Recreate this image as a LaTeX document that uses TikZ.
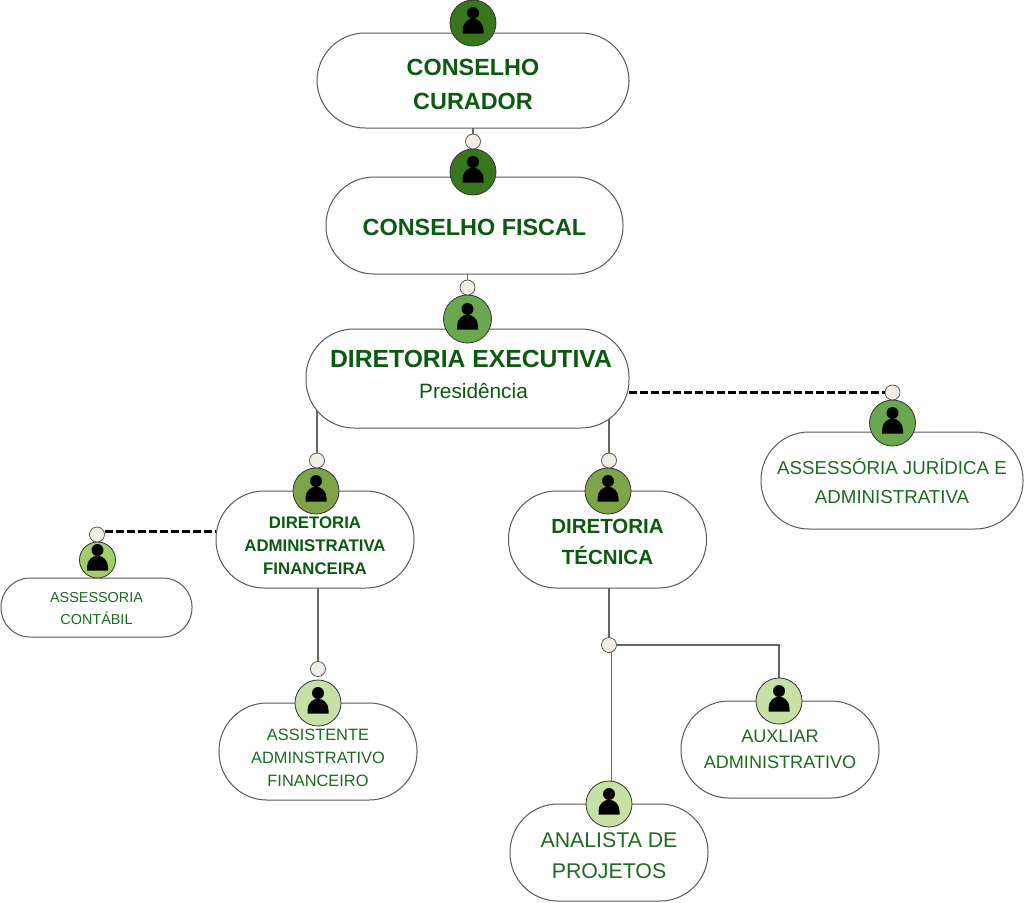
\documentclass[tikz,border=0pt]{standalone}
\usepackage{fontspec}
\usepackage{xcolor}
\setmainfont{Liberation Sans}
\usetikzlibrary{positioning,backgrounds}

\definecolor{textdark}{HTML}{0B5A10}
\definecolor{textlight}{HTML}{1C6B20}
\definecolor{greenA}{HTML}{38761D}
\definecolor{greenB}{HTML}{6AA84F}
\definecolor{greenC}{HTML}{7FA347}
\definecolor{greenD}{HTML}{A2CD68}
\definecolor{greenE}{HTML}{C6E0A6}
\definecolor{dotfill}{HTML}{F3EFE8}

\newcommand{\personicon}[1]{%
  \fill[black,shift={(path picture bounding box.center)},scale=#1]
    (0pt,10pt) circle (6pt)
    (-10.5pt,-10.7pt) -- (10.5pt,-10.7pt) -- (10.5pt,-7pt)
    .. controls (10.5pt,0pt) and (5pt,4.3pt) .. (0pt,4.3pt)
    .. controls (-5pt,4.3pt) and (-10.5pt,0pt) .. (-10.5pt,-7pt) -- cycle;}
% invisible struts that move the lines of a box down or up
\newcommand{\pushdown}[1]{\rule{0pt}{\dimexpr\fontcharht\font`H+2\dimexpr#1\relax\relax}}
\newcommand{\pushup}[1]{\rule[-2\dimexpr#1\relax]{0pt}{0pt}}

\begin{document}
\begin{tikzpicture}[
    box/.style={draw=black!65, fill=white, line width=1pt, outer sep=0pt, rounded corners=48pt, inner sep=0pt, align=center, minimum width=198pt, minimum height=97pt},
    badge/.style={circle, draw=black!80, line width=0.8pt, outer sep=0pt, fill=#1, inner sep=0pt, minimum size=46pt, path picture={\personicon{1}}},
    smallbadge/.style={circle, draw=black!80, line width=0.8pt, outer sep=0pt, fill=#1, inner sep=0pt, minimum size=36pt, path picture={\personicon{0.76}}},
    dot/.style={circle, draw=black!65, line width=0.8pt, outer sep=0pt, fill=dotfill, inner sep=0pt, minimum size=15pt},
    conn/.style={draw=black!60, line width=1.2pt},
    dashline/.style={draw=black, line width=2.2pt, dash pattern=on 8pt off 3pt}
]
\useasboundingbox (0,0) rectangle (1024pt,-902pt);

% Boxes
\node[box, minimum width=312pt, minimum height=95pt, text=textdark, font=\fontsize{23.4}{34}\selectfont\bfseries] (curador) at (473pt,-80.5pt) {\pushdown{4pt}CONSELHO\\CURADOR};
\node[box, minimum width=297pt, below=49pt of curador, xshift=1.5pt, text=textdark, font=\fontsize{23.4}{34}\selectfont\bfseries] (fiscal) {\pushdown{2.5pt}CONSELHO FISCAL};
\node[box, minimum width=323pt, minimum height=99pt, below=55pt of fiscal, xshift=-7pt, text=textdark, font=\fontsize{24.7}{31}\selectfont\bfseries] (executiva) {\hspace*{7pt}DIRETORIA EXECUTIVA\\\hspace*{12pt}{\fontsize{20.8}{31}\selectfont\mdseries Presidência}\pushup{4pt}};

\node[box, below=63pt of executiva, xshift=-152.5pt, text=textdark, font=\fontsize{16.8}{23}\selectfont\bfseries] (admin) {\pushdown{6.5pt}DIRETORIA\\ADMINISTRATIVA\\FINANCEIRA};
\node[box, below=63pt of executiva, xshift=140pt, text=textdark, font=\fontsize{20.5}{31}\selectfont\bfseries] (tecnica) {\pushdown{3pt}DIRETORIA\\TÉCNICA};
\node[box, minimum width=262pt, below=4pt of executiva, xshift=424.5pt, text=textlight, font=\fontsize{18.7}{29}\selectfont] (juridica) {\pushdown{1pt}ASSESSÓRIA JURÍDICA E\\ADMINISTRATIVA};
\node[box, minimum width=191pt, minimum height=59pt, rounded corners=29pt, below=-10pt of admin, xshift=-218.5pt, text=textlight, font=\fontsize{14.4}{22}\selectfont] (contabil) {\pushdown{1.5pt}ASSESSORIA\\CONTÁBIL};

\node[box, below=115pt of admin, xshift=3pt, text=textlight, font=\fontsize{16.4}{23}\selectfont] (assistente) {\pushdown{6.5pt}ASSISTENTE\\ADMINSTRATIVO\\FINANCEIRO};
\node[box, below=113pt of tecnica, xshift=172.5pt, text=textlight, font=\fontsize{18.1}{26}\selectfont] (auxiliar) {AUXLIAR\\ADMINISTRATIVO};
\node[box, below=216pt of tecnica, xshift=1.5pt, text=textlight, font=\fontsize{21.3}{31}\selectfont] (analista) {\pushdown{3pt}ANALISTA DE\\PROJETOS};

% Badges
\node[badge=greenA, above=-13pt of curador] (curadorbadge) {};
\node[badge=greenA, above=-18pt of fiscal, xshift=-1.5pt] (fiscalbadge) {};
\node[badge=greenB, minimum size=48pt, above=-14pt of executiva] (executivabadge) {};
\node[badge=greenC, above=-23pt of admin, xshift=1pt] (adminbadge) {};
\node[badge=greenC, above=-23pt of tecnica, xshift=0.5pt] (tecnicabadge) {};
\node[badge=greenB, above=-14pt of juridica, xshift=0.5pt] (juridicabadge) {};
\node[smallbadge=greenD, above=0pt of contabil, xshift=1pt] (contabilbadge) {};
\node[badge=greenE, above=-23pt of assistente] (assistentebadge) {};
\node[badge=greenE, above=-23pt of auxiliar, xshift=-1pt] (auxiliarbadge) {};
\node[badge=greenE, above=-23pt of analista] (analistabadge) {};

% Small circles
\node[dot, above=0pt of fiscalbadge] (fiscaldot) {};
\node[dot, above=0pt of executivabadge] (executivadot) {};
\node[dot, above=0pt of adminbadge, xshift=1pt] (admindot) {};
\node[dot, above=0pt of tecnicabadge, xshift=1pt] (tecnicadot) {};
\node[dot, above=0pt of juridicabadge] (juridicadot) {};
\node[dot, above=0pt of contabilbadge, xshift=-0.5pt] (contabildot) {};
\node[dot, above=3.5pt of assistentebadge] (assistentedot) {};
\node[dot, below=49.5pt of tecnica, xshift=1.5pt] (splitdot) {};

% Connections
\begin{scope}[on background layer]
\draw[conn] (curador) -- (fiscaldot);
\draw[conn] (fiscal.south -| executivadot) -- (executivadot);
\draw[conn] (executiva.center -| admindot) -- (admindot);
\draw[conn] (executiva.center -| tecnicadot) -- (tecnicadot);
\draw[conn] (admin.center -| assistentedot) -- (assistentedot);
\draw[conn] (tecnica.center -| splitdot) -- (splitdot);
\draw[conn] ([xshift=2.2pt]splitdot.center) -- ([xshift=2.2pt]splitdot.center |- analistabadge.north);
\draw[conn] (splitdot.east) -| (auxiliarbadge.north);
\end{scope}
\draw[dashline] (executiva.east |- juridicadot) -- (juridicadot.west);
\draw[dashline] ([yshift=3pt]contabildot.east) -- ([yshift=3pt]contabildot.east -| admin.west);

\end{tikzpicture}
\end{document}
